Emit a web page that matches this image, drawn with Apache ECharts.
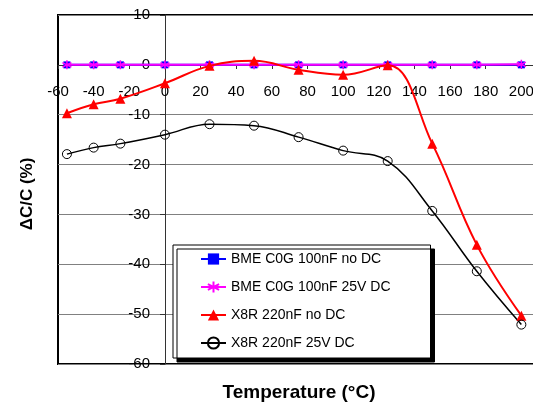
<!DOCTYPE html>
<html><head><meta charset="utf-8">
<script src="https://cdn.jsdelivr.net/npm/echarts@6/dist/echarts.min.js"></script>
<style>html,body{margin:0;padding:0;background:#fff}#c{width:533px;height:405px}</style>
</head><body><div id="c"></div>
<script>
var temps = [-55, -40, -25, 0, 25, 50, 75, 100, 125, 150, 175, 200];
var c0gNoDC = [0, 0, 0, 0, 0, 0, 0, 0, 0, 0, 0, 0];
var c0g25V = [0, 0, 0, 0, 0, 0, 0, 0, 0, 0, 0, 0.1];
var x8rNoDC = [-9.7, -7.9, -6.8, -3.7, -0.2, 0.8, -1.0, -2.0, -0.1, -15.8, -36.1, -50.3];
var x8r25V = [-17.9, -16.6, -15.8, -14.0, -11.9, -12.2, -14.5, -17.2, -19.3, -29.3, -41.4, -52.1];
var names = ['BME C0G 100nF no DC', 'BME C0G 100nF 25V DC', 'X8R 220nF no DC', 'X8R 220nF 25V DC'];
var xTicks = {min: -60, max: 220, interval: 20};
var yTicks = {min: -60, max: 10, interval: 10};

function pairs(ys) { return temps.map(function (t, i) { return [t, ys[i]]; }); }
var FONT = 'Liberation Sans, Arial, sans-serif';
var chart = echarts.init(document.getElementById('c'));
chart.setOption({
  animation: false,
  grid: {left: 58, top: 15, right: -24, bottom: 41, show: true, borderColor: '#000', borderWidth: 2,
    backgroundColor: 'transparent', outerBoundsMode: 'none', containLabel: false},
  xAxis: {
    type: 'value', min: xTicks.min, max: xTicks.max, interval: xTicks.interval,
    position: 'bottom', offset: -299,
    axisLine: {onZero: false, lineStyle: {color: '#333', width: 1}},
    axisTick: {show: true, length: 4, lineStyle: {color: '#333'}},
    axisLabel: {color: '#000', fontSize: 15, fontFamily: FONT, margin: 19, showMaxLabel: false},
    splitLine: {show: false}
  },
  yAxis: {
    type: 'value', min: yTicks.min, max: yTicks.max, interval: yTicks.interval,
    position: 'left', offset: -107,
    axisLine: {onZero: false, lineStyle: {color: '#333', width: 1}},
    axisTick: {show: true, length: 5, lineStyle: {color: '#333'}},
    axisLabel: {color: '#000', fontSize: 15, fontFamily: FONT, margin: 15},
    splitLine: {show: true, lineStyle: {color: '#808080', width: 1}}
  },
  legend: {
    orient: 'vertical', left: 173, top: 245,
    padding: [7, 40, 8, 27], itemGap: 14, itemWidth: 25, itemHeight: 14,
    backgroundColor: '#fff', borderColor: '#000', borderWidth: 1,
    shadowColor: '#000', shadowOffsetX: 4, shadowOffsetY: 4, shadowBlur: 0,
    textStyle: {fontSize: 14, fontFamily: FONT, color: '#000'},
    data: names
  },
  graphic: [
    {type: 'text', x: 299, y: 393, style: {text: 'Temperature (°C)', font: 'bold 19px ' + FONT, fill: '#000', align: 'center', verticalAlign: 'middle'}},
    {type: 'text', x: 27, y: 194, rotation: Math.PI / 2, style: {text: 'ΔC/C (%)', font: 'bold 17px ' + FONT, fill: '#000', align: 'center', verticalAlign: 'middle'}}
  ],
  series: [
    {name: names[0], type: 'line', data: pairs(c0gNoDC), color: '#0000FF', symbol: 'rect', symbolSize: 7,
      lineStyle: {width: 2, color: '#0000FF'}, itemStyle: {color: '#0000FF'}, z: 2},
    {name: names[1], type: 'line', data: pairs(c0g25V), color: '#FF00FF',
      symbol: 'path://M5,0L5,10M0.7,2.5L9.3,7.5M0.7,7.5L9.3,2.5', symbolSize: 9,
      lineStyle: {width: 2, color: '#FF00FF'}, itemStyle: {color: '#FF00FF', borderColor: '#FF00FF', borderWidth: 1.5}, z: 3},
    {name: names[2], type: 'line', data: pairs(x8rNoDC), color: '#FF0000', symbol: 'triangle', symbolSize: 10, smooth: 0.4,
      lineStyle: {width: 2, color: '#FF0000'}, itemStyle: {color: '#FF0000'}, z: 4},
    {name: names[3], type: 'line', data: pairs(x8r25V), color: '#000', symbol: 'circle', symbolSize: 9, smooth: 0.4,
      lineStyle: {width: 1.5, color: '#000'}, itemStyle: {color: 'rgba(0,0,0,0)', borderColor: '#000', borderWidth: 1}, z: 4}
  ]
});
</script></body></html>
